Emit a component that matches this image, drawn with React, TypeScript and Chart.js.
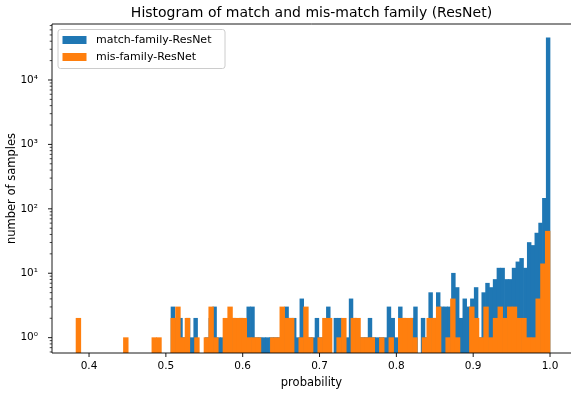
import React, { useEffect, useRef } from "react";
import { Chart, registerables } from "chart.js";

Chart.register(...registerables);

const TITLE = "Histogram of match and mis-match family (ResNet)";
const X_LABEL = "probability";
const Y_LABEL = "number of samples";
const SERIES_LABELS = ["match-family-ResNet", "mis-family-ResNet"];
const SERIES_COLORS = ["#1f77b4", "#ff7f0e"];

// match-family histogram: 100 equal bins between these edges
const MATCH_RANGE = [0.5067, 1.0];
const MATCH_COUNTS = [
  3, 2, 2, 1, 2, 1, 2, 0, 0, 1,
  2, 3, 1, 1, 1, 2, 2, 1, 2, 1,
  3, 3, 1, 1, 1, 1, 1, 1, 1, 2,
  3, 2, 2, 1, 4, 2, 1, 1, 2, 1,
  1, 3, 0, 2, 2, 1, 1, 4, 2, 1,
  1, 1, 2, 1, 1, 1, 1, 3, 2, 1,
  3, 2, 1, 2, 3, 0, 2, 1, 5, 2,
  5, 3, 3, 3, 10, 6, 2, 4, 3, 4,
  6, 1, 5, 7, 6, 8, 12, 12, 8, 8,
  12, 15, 17, 12, 30, 27, 42, 60, 145, 45000,
];

// mis-family histogram: 100 equal bins between these edges
const MIS_RANGE = [0.3831, 1.0];
const MIS_COUNTS = [
  2, 0, 0, 0, 0, 0, 0, 0, 0, 0,
  1, 0, 0, 0, 0, 0, 1, 1, 0, 0,
  2, 3, 1, 2, 0, 1, 0, 1, 3, 1,
  0, 2, 3, 2, 2, 2, 1, 1, 1, 0,
  0, 1, 1, 3, 2, 2, 0, 1, 3, 1,
  0, 1, 2, 2, 0, 1, 2, 0, 2, 2,
  1, 1, 1, 0, 1, 0, 1, 0, 2, 2,
  2, 1, 0, 1, 2, 2, 3, 0, 1, 4,
  1, 0, 0, 3, 2, 1, 3, 1, 2, 3,
  2, 3, 3, 2, 2, 1, 1, 4, 14, 45,
];

const X_TICKS = [0.4, 0.5, 0.6, 0.7, 0.8, 0.9, 1.0];
const Y_TICKS = [1, 10, 100, 1000, 10000];
const X_LIMITS = [0.3518, 1.0273];
const Y_LIMITS = [0.578, 74000];

const FONT = "'DejaVu Sans', sans-serif";
const SUP: Record<string, string> = {
  "0": "\u2070", "1": "\u00b9", "2": "\u00b2", "3": "\u00b3", "4": "\u2074",
  "5": "\u2075", "6": "\u2076", "7": "\u2077", "8": "\u2078", "9": "\u2079", "-": "\u207b",
};

function toPoints(range: number[], counts: number[]) {
  const w = (range[1] - range[0]) / counts.length;
  return counts.map((c, i) => ({ x: range[0] + (i + 0.5) * w, y: c > 0 ? c : null }));
}

const decor = {
  id: "decor",
  afterDraw(chart: any) {
    const { ctx, chartArea: a, scales } = chart;
    ctx.save();
    const line = (x1: number, y1: number, x2: number, y2: number, w: number) => {
      ctx.lineWidth = w;
      ctx.beginPath();
      ctx.moveTo(x1, y1);
      ctx.lineTo(x2, y2);
      ctx.stroke();
    };
    ctx.strokeStyle = "#000";
    const xs = scales.x;
    X_TICKS.forEach((v) => {
      const px = xs.getPixelForValue(v);
      line(px, a.bottom, px, a.bottom + 4, 0.9);
    });
    const ys = scales.y;
    for (let e = -1; e <= 5; e++) {
      for (let d = 1; d <= 9; d++) {
        const v = d * Math.pow(10, e);
        if (v < ys.min || v > ys.max) continue;
        const py = ys.getPixelForValue(v);
        const major = d === 1;
        line(a.left - (major ? 4 : 2.3), py, a.left, py, major ? 0.9 : 0.7);
      }
    }
    // spines (the right one lies at the very edge of the picture, outside the view)
    line(a.left, a.top, chart.width, a.top, 0.9);
    line(a.left, a.bottom, chart.width, a.bottom, 0.9);
    line(a.left, a.top, a.left, a.bottom, 0.9);
    if (a.right < chart.width - 1) line(a.right, a.top, a.right, a.bottom, 0.9);

    // legend
    const lx = a.left + 6;
    const ly = a.top + 5.5;
    const lw = 167;
    const lh = 39;
    const r = 2.5;
    ctx.beginPath();
    ctx.moveTo(lx + r, ly);
    ctx.lineTo(lx + lw - r, ly);
    ctx.arcTo(lx + lw, ly, lx + lw, ly + r, r);
    ctx.lineTo(lx + lw, ly + lh - r);
    ctx.arcTo(lx + lw, ly + lh, lx + lw - r, ly + lh, r);
    ctx.lineTo(lx + r, ly + lh);
    ctx.arcTo(lx, ly + lh, lx, ly + lh - r, r);
    ctx.lineTo(lx, ly + r);
    ctx.arcTo(lx, ly, lx + r, ly, r);
    ctx.closePath();
    ctx.fillStyle = "rgba(255,255,255,0.8)";
    ctx.fill();
    ctx.strokeStyle = "#cccccc";
    ctx.lineWidth = 1;
    ctx.stroke();
    ctx.font = `11px ${FONT}`;
    ctx.textBaseline = "middle";
    ctx.textAlign = "left";
    chart.data.datasets.forEach((ds: any, i: number) => {
      const cy = ly + 10.5 + i * 17;
      ctx.fillStyle = ds.backgroundColor;
      ctx.fillRect(lx + 4.5, cy - 4, 24, 8);
      ctx.fillStyle = "#000";
      ctx.fillText(ds.label, lx + 38, cy);
    });
    ctx.restore();
  },
};

export default function App() {
  const ref = useRef<HTMLCanvasElement | null>(null);
  useEffect(() => {
    if (!ref.current) return;
    const tickFont = { family: FONT, size: 10.5 };
    const labelFont = { family: FONT, size: 11.5 };
    const chart = new Chart(ref.current, {
      type: "bar",
      data: {
        datasets: [
          {
            label: SERIES_LABELS[0],
            data: toPoints(MATCH_RANGE, MATCH_COUNTS) as any,
            backgroundColor: SERIES_COLORS[0],
            xAxisID: "x",
            yAxisID: "y",
            order: 2,
            grouped: false,
            barPercentage: 1,
            categoryPercentage: 1,
            borderWidth: 0,
          } as any,
          {
            label: SERIES_LABELS[1],
            data: toPoints(MIS_RANGE, MIS_COUNTS) as any,
            backgroundColor: SERIES_COLORS[1],
            xAxisID: "x2",
            yAxisID: "y",
            order: 1,
            grouped: false,
            barPercentage: 1,
            categoryPercentage: 1,
            borderWidth: 0,
          } as any,
        ],
      },
      options: {
        animation: false,
        responsive: true,
        maintainAspectRatio: false,
        layout: { padding: 0 },
        plugins: {
          legend: { display: false },
          tooltip: { enabled: false },
          title: {
            display: true,
            text: TITLE,
            fullSize: false,
            color: "#000",
            font: { family: FONT, size: 14, weight: "normal" },
            padding: { top: 5, bottom: 2.2 },
          },
        },
        scales: {
          x: {
            type: "linear",
            position: "bottom",
            offset: false,
            min: X_LIMITS[0],
            max: X_LIMITS[1],
            afterBuildTicks: (s: any) => {
              s.ticks = X_TICKS.map((v) => ({ value: v }));
            },
            afterFit: (s: any) => {
              s.height = 40;
            },
            grid: { display: false, drawTicks: false, offset: false },
            border: { display: false },
            ticks: {
              padding: 7,
              color: "#000",
              font: tickFont,
              maxRotation: 0,
              autoSkip: false,
              callback: (v: any) => Number(v).toFixed(1),
            },
            title: {
              display: true,
              text: X_LABEL,
              color: "#000",
              font: labelFont,
              padding: { top: 0, bottom: 3.5 },
            },
          },
          x2: {
            type: "linear",
            display: false,
            offset: false,
            grid: { offset: false },
            min: X_LIMITS[0],
            max: X_LIMITS[1],
          },
          y: {
            type: "logarithmic",
            min: Y_LIMITS[0],
            max: Y_LIMITS[1],
            afterBuildTicks: (s: any) => {
              s.ticks = Y_TICKS.map((v) => ({ value: v }));
            },
            afterFit: (s: any) => {
              s.width = 52;
            },
            grid: { display: false, drawTicks: false },
            border: { display: false },
            ticks: {
              padding: 14,
              color: "#000",
              font: tickFont,
              autoSkip: false,
              callback: (v: any) => {
                const e = String(Math.round(Math.log10(Number(v))));
                return "10" + e.split("").map((ch) => SUP[ch] || ch).join("");
              },
            },
            title: {
              display: true,
              text: Y_LABEL,
              color: "#000",
              font: labelFont,
              padding: { top: 5, bottom: 0 },
            },
          },
        },
      } as any,
      plugins: [decor],
    });
    return () => chart.destroy();
  }, []);

  return (
    <div
      style={{
        position: "fixed",
        left: 0,
        top: 0,
        width: 571,
        height: 393,
        overflow: "hidden",
        background: "#fff",
      }}
    >
      <div style={{ position: "relative", width: 571, height: 393 }}>
        <canvas ref={ref} />
      </div>
    </div>
  );
}
